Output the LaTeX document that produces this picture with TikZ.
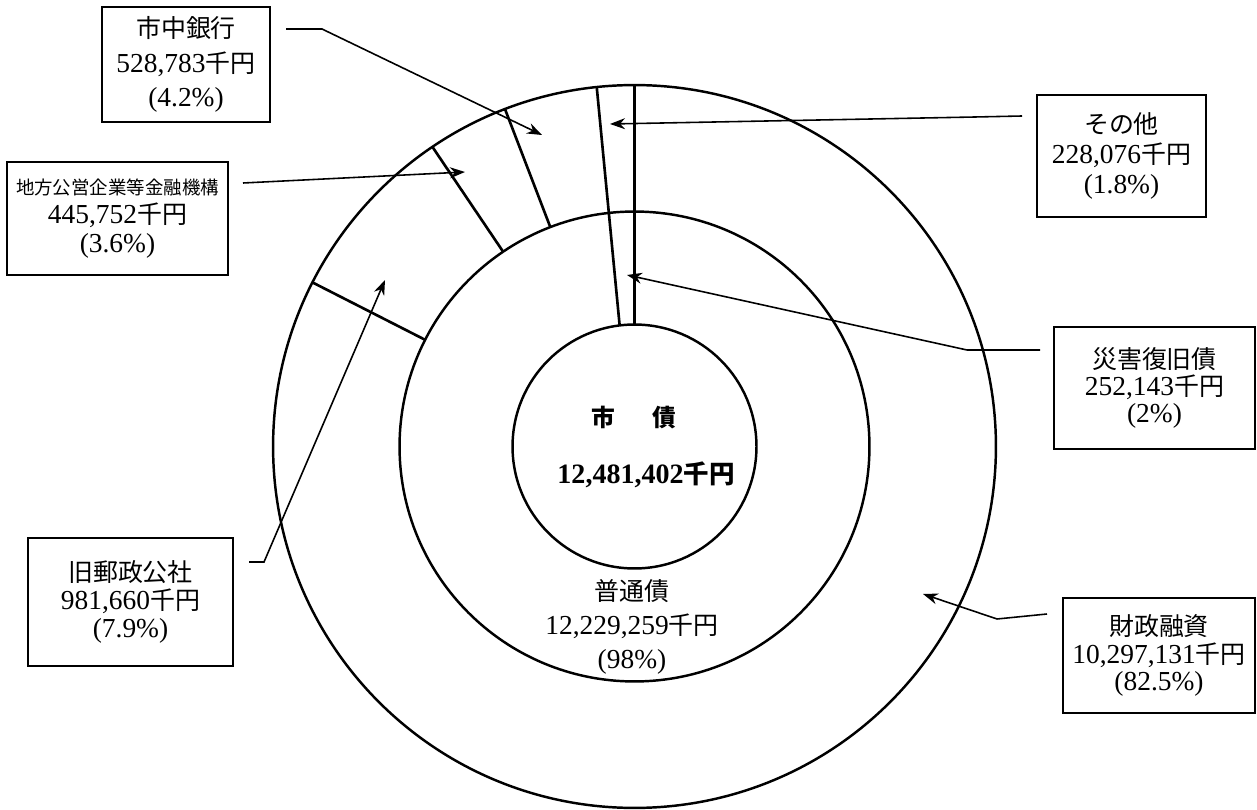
\documentclass[tikz,border=0pt]{standalone}
\usepackage{fontspec}
\setmainfont{Liberation Serif}[Scale=1.1]
\newfontfamily\jpfont{Noto Sans CJK JP}
\usetikzlibrary{arrows.meta}
\tikzset{
  ring/.style={circle, draw, line width=1.4pt, inner sep=0pt, outer sep=0pt},
  divider/.style={line width=1.5pt},
  labelbox/.style={draw, line width=1.3pt, align=center, inner sep=0pt},
  callout/.style={line width=0.9pt, -{Stealth[length=0.3cm, width=0.22cm]}},
  bodytext/.style={font=\fontsize{14.2}{19.5}\selectfont},
}

\begin{document}
\begin{tikzpicture}[x=0.02cm, y=-0.02cm]
\useasboundingbox (0,0) rectangle (1257,810);
% Draw the three rings
\node[ring, minimum size=14.46cm] (outer) at (634.5,446.5) {};
\node[ring, minimum size=9.4cm] (middle) at (634.5,446.5) {};
\node[ring, minimum size=4.88cm] (inner) at (634.5,446.5) {};
% Split the rings into slices
\draw[divider] (inner.north) -- (outer.north);
\draw[divider] (inner.97.8) -- (outer.96.6);
\foreach \ang in {111.6, 124.56, 153} {
    \draw[divider] (middle.\ang) -- (outer.\ang);
}
% Centre and inner ring text
\node[font=\bfseries\fontsize{13.5}{15}\selectfont, inner sep=0pt] (title) at (634,418) {\jpfont 市\hspace{0.75cm}債};
\node[font=\bfseries\fontsize{14.5}{16}\selectfont, inner sep=0pt] (total) at (646,475) {12,481,402{\jpfont 千円}};
\node[bodytext, align=center, inner sep=0pt] (futsu) at (632,627) {{\jpfont 普通債}\\12,229,259{\jpfont 千円}\\(98\%)};
% Label boxes
\node[labelbox, bodytext, minimum width=3.36cm, minimum height=2.3cm] (shichu) at (186,64.5)
    {{\jpfont 市中銀行}\\528,783{\jpfont 千円}\\(4.2\%)};
\node[labelbox, font=\fontsize{14.2}{16.5}\selectfont, minimum width=4.42cm, minimum height=2.26cm] (chiho) at (117.5,218.5)
    {{\jpfont\fontsize{10.5}{13}\selectfont 地方公営企業等金融機構}\\445,752{\jpfont 千円}\\(3.6\%)};
\node[labelbox, font=\fontsize{14.2}{17}\selectfont, minimum width=3.38cm, minimum height=2.44cm] (sonota) at (1121.5,156)
    {{\jpfont その他}\\228,076{\jpfont 千円}\\(1.8\%)};
\node[labelbox, font=\fontsize{14.2}{15.2}\selectfont, minimum width=4.02cm, minimum height=2.44cm] (saigai) at (1154.5,388)
    {{\jpfont 災害復旧債}\\252,143{\jpfont 千円}\\(2\%)};
\node[labelbox, font=\fontsize{14.2}{16}\selectfont, minimum width=4.1cm, minimum height=2.56cm] (yusei) at (130.5,602)
    {{\jpfont 旧郵政公社}\\981,660{\jpfont 千円}\\(7.9\%)};
\node[labelbox, font=\fontsize{14.2}{15.5}\selectfont, minimum width=3.84cm, minimum height=2.3cm] (zaisei) at (1159,655.5)
    {{\jpfont 財政融資}\\10,297,131{\jpfont 千円}\\(82.5\%)};
% Callout lines
\coordinate (shichu-a) at (286,29);
\coordinate (shichu-b) at (322,29);
\coordinate (shichu-tip) at (542,135);
\coordinate (chiho-a) at (243,183);
\coordinate (chiho-tip) at (465,172);
\coordinate (sonota-a) at (1022,116);
\coordinate (sonota-b) at (975,117);
\coordinate (sonota-tip) at (610,124);
\coordinate (saigai-a) at (1040,350);
\coordinate (saigai-b) at (967,350);
\coordinate (saigai-tip) at (627,275);
\coordinate (yusei-a) at (249,562);
\coordinate (yusei-b) at (264,562);
\coordinate (yusei-tip) at (385,280);
\coordinate (zaisei-a) at (1047,614);
\coordinate (zaisei-b) at (997,619);
\coordinate (zaisei-tip) at (923,594);
\draw[callout] (shichu-a) -- (shichu-b) -- (shichu-tip);
\draw[callout] (chiho-a) -- (chiho-tip);
\draw[callout] (sonota-a) -- (sonota-b) -- (sonota-tip);
\draw[callout] (saigai-a) -- (saigai-b) -- (saigai-tip);
\draw[callout] (yusei-a) -- (yusei-b) -- (yusei-tip);
\draw[callout] (zaisei-a) -- (zaisei-b) -- (zaisei-tip);
\end{tikzpicture}
\end{document}
